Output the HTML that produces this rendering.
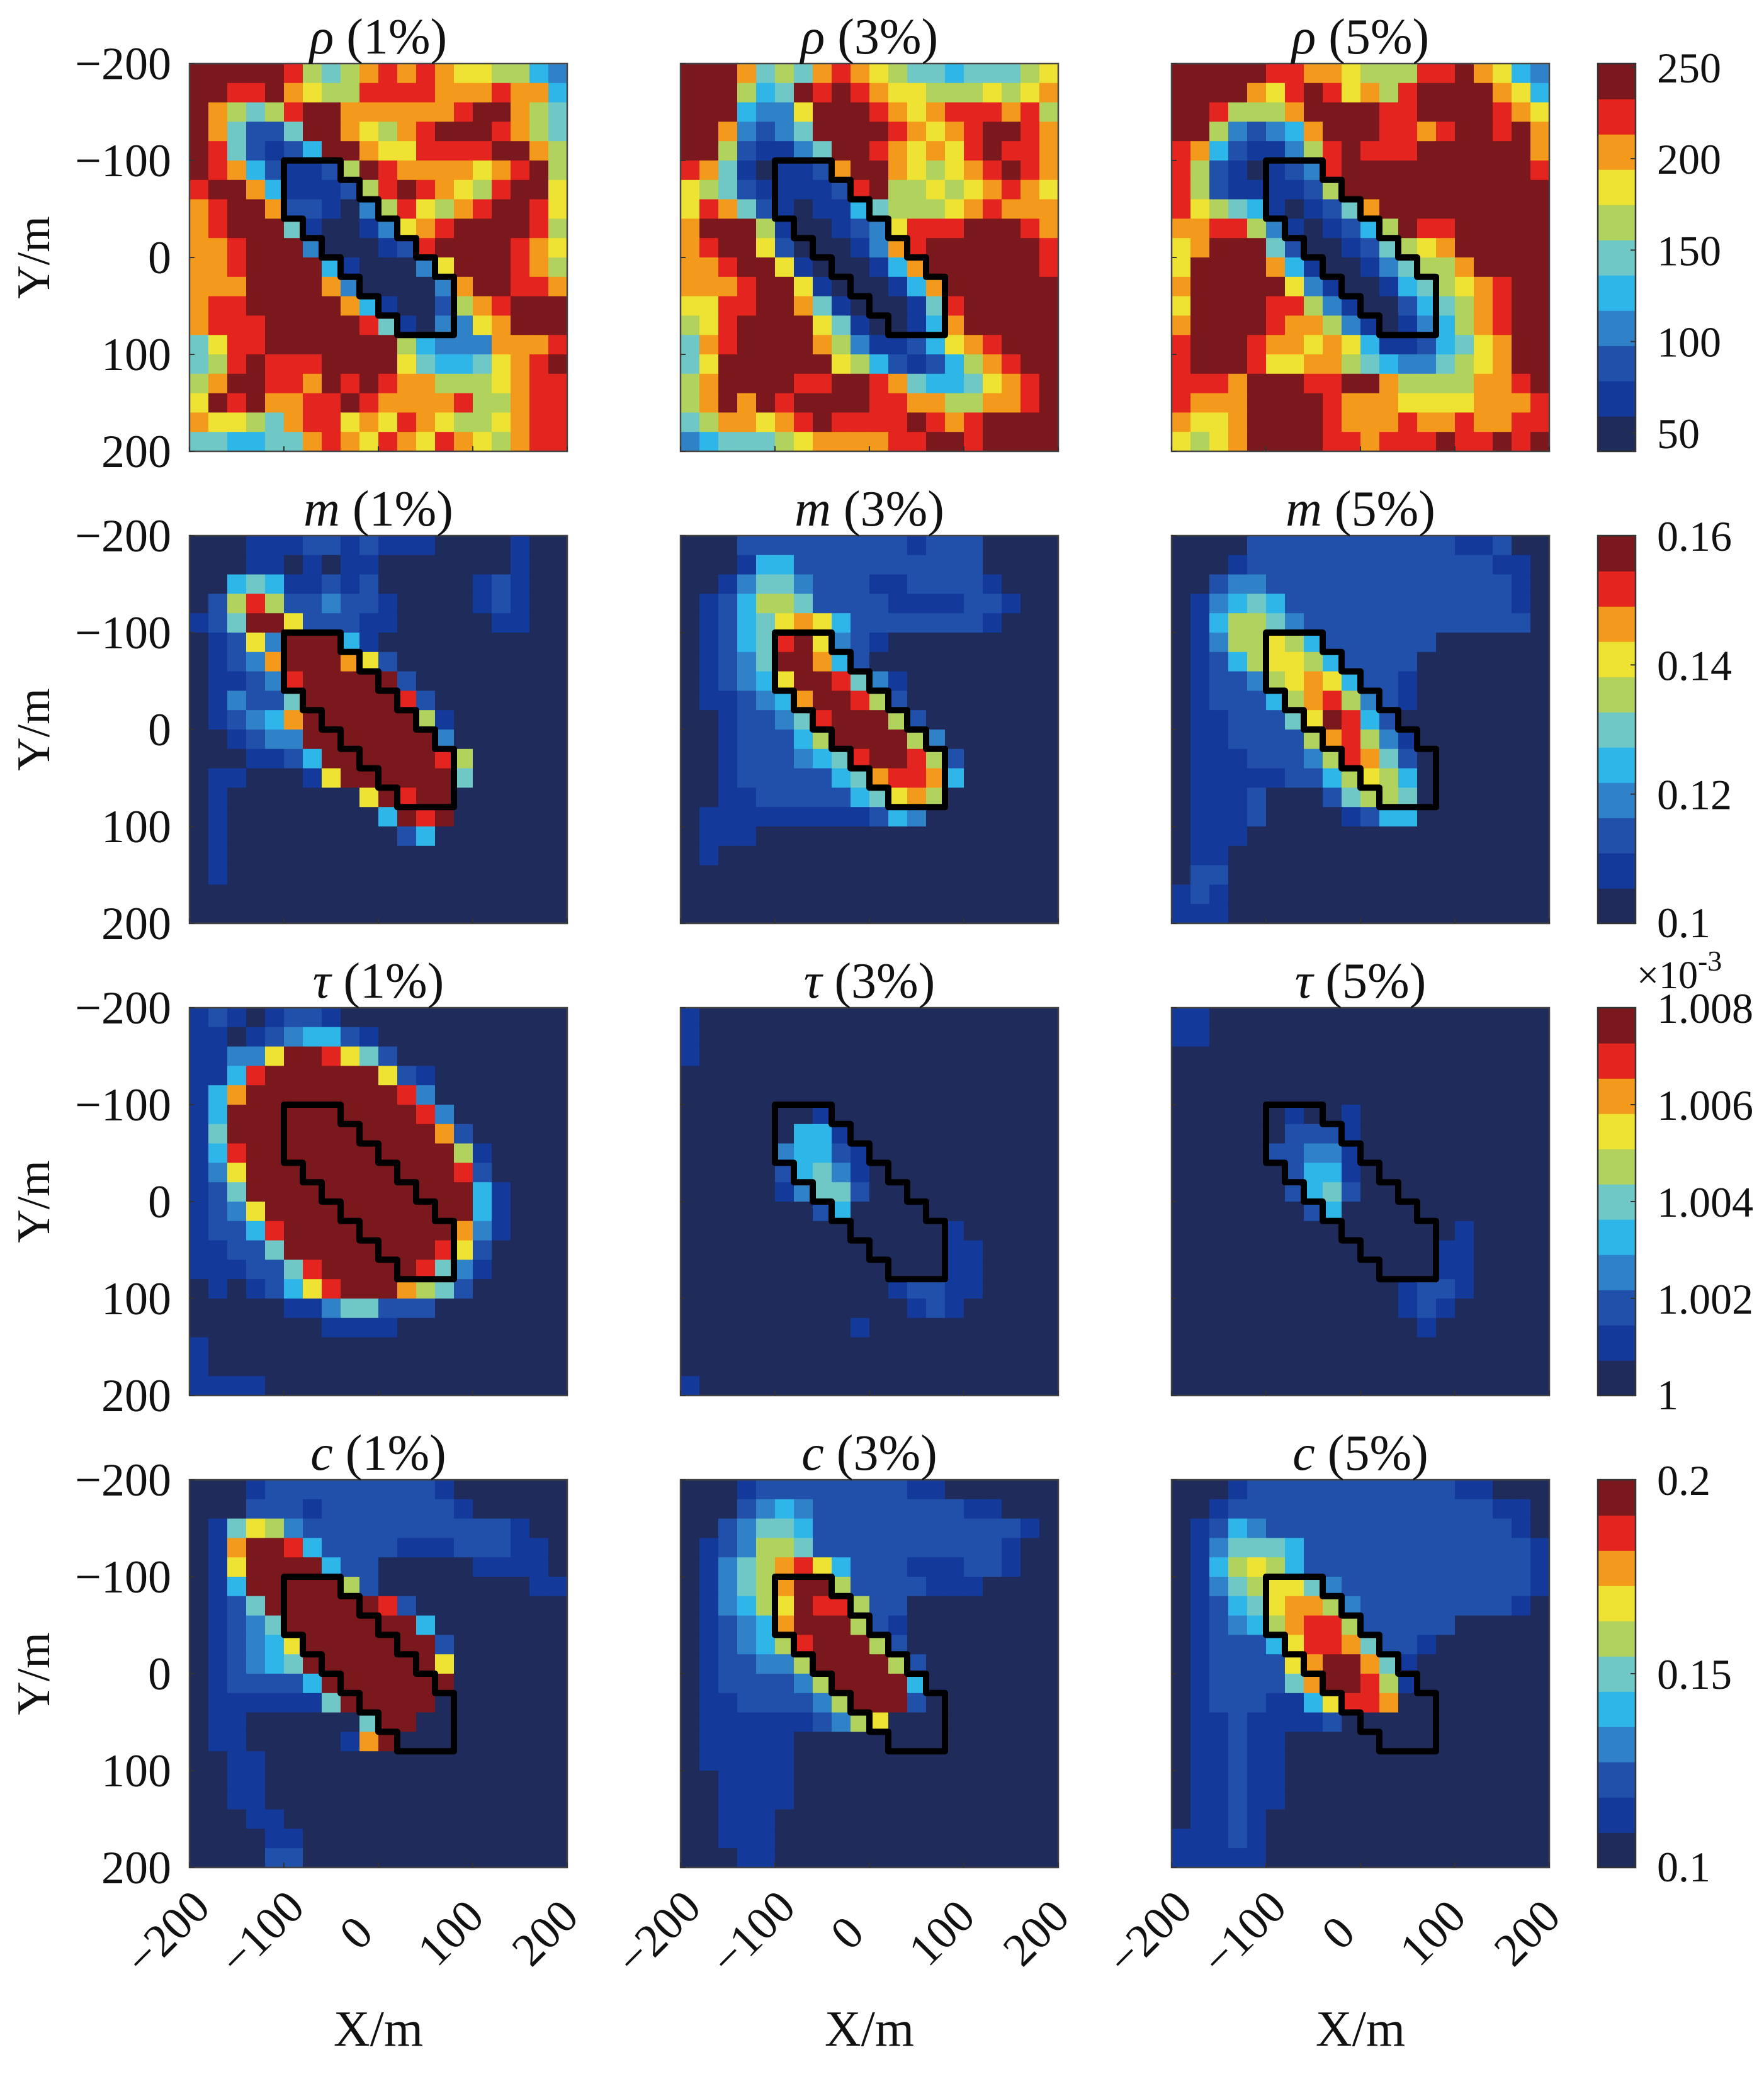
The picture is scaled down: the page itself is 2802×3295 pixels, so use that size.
<!DOCTYPE html>
<html><head><meta charset="utf-8"><style>
html,body{margin:0;padding:0;background:#fff;}
svg{display:block;font-family:"Liberation Serif",serif;}
</style></head>
<body>
<svg id="fig" xmlns="http://www.w3.org/2000/svg" width="2802" height="3295" viewBox="0 0 2802 3295"></svg>
<script>
// ---------- data ----------
const rowParams = ["rho","m","tau","c"];
const noiseLevels = ["1%","3%","5%"];
const rowTitles = ["\u03c1","m","\u03c4","c"];
const cbarMin = [40, 0.1, 1.0, 0.1];
const cbarMax = [252, 0.16, 1.008, 0.2];
const cbarTicks = [[50,100,150,200,250],[0.1,0.12,0.14,0.16],[1.0,1.002,1.004,1.006,1.008],[0.1,0.15,0.2]];
const cbarTickLabels = [["50","100","150","200","250"],["0.1","0.12","0.14","0.16"],["1","1.002","1.004","1.006","1.008"],["0.1","0.15","0.2"]];
const axisTicks = [-200,-100,0,100,200];
const axisTickLabels = ["\u2212200","\u2212100","0","100","200"];
// Anomaly outline (cell corner coordinates: col,row in 20 m cells)
const outlineCols = [5,8,8,9,9,10,10,11,11,12,12,13,13,14,14,11,11,10,10,9,9,8,8,7,7,6,6,5];
const outlineRows = [5,5,6,6,7,7,8,8,9,9,10,10,11,11,14,14,13,13,12,12,11,11,10,10,9,9,8,8];
// Heatmap grids: 20x20 levels (0..a -> fraction of colour range)
const rho1 = ["aaaaa965689898776643","aa99a876699998889884","a86569aa8888889aa865","a85225aa87689aaa9865","a952124aa8779999aa86","a98421126a98888789a6","9aa841112 69a98769aa7".replace(" ",""),"89aa822103697689aa97","89aaa510013789aaaa96","889aaa3000129aaaa987","889aaaa4100037aaa986","888aaaa83000038aa998","899aaaaa841002689aaa","8999aaaaa95103378aaa","5799aaaaaaa643338889","569a999aaaa75445789a","68aa998a9a9886667899","7a9a8899a98888966899","87765899787987667899","55445589879879876899"];
const rho3 = ["aaa85658987655455567","aaa645a9a98776667678","aaa4337aaa9878999896","aa83235aaaa98789aa98","aa621135aa987879a998","985101128aa876789a98","7652111129a667678987","79852101145666789888","8aaa610012 37999aaa98".replace(" ",""),"89aa720001389aaaaaa9","889aa71000148aaaaaa9","8889aa71000148aaaaaa","7799aa851000159aaaaa","679aaaa75100148aaaaa","589aaaa8631124789aaa","57aaaaaa7642124689aa","68aaaa99aa985445789a","68a8a9aaaa998866889a","5688789a9999a989aaaa","3455567888899aa9aaaa"];
const rho5 = ["aaaaa9988766699a8743","aaaa879a97869aaaa874","aa96668aaaa99aaaa987","aa632348aaa9989aa9a8","984211369a999aaaaaa8","962101239aaaaaaaaaa9","962111126aaaaaaaaaaa","97654101258aaaaaaaaa","889963101246a99aaaaa","78aaa5200125678aaaaa","7aaaa84100135668aaaa","8aaaaa731001456789aa","7aaaa9963100245689aa","8aaaa9886310134689aa","9aaa98878741124578aa","9aaa97788654335678aa","9998aaa99aa86666889a","9888aaaa988877778889","8778aaaa988898898899","7678aaaa998999a99a9a"];
const m1 = ["00011122121110000100","00011010110000000100","00454112120000012100","02696223221000012100","125aa722211000001100","01273aaa410000000000","01238aaa872000000000","011239aaaaa200000000","013225aaaaa920000000","012348aaaaaa61000000","001233aaaaaaa3000000","0001124aaaaaa9600000","01100017aaaaaa500000","0100000007a9aa000000","01000000004a9a000000","01000000000240000000","01000000000000000000","01000000000000000000","00000000000000000000","00000000000000000000"];
const m3 = ["00022222222212220000","00014422222222220000","00135532221122221000","01246652222111122100","01245787422222221000","012459a7321000000000","01235aa8420000000000","012347aa953100000000","0112348aa96200000000","00122359aaa620000000","00122246aaaa63000000","0012223459aa96200000","00122222458998400000","00112222245786000000","01111111112430000000","01110000000000000000","01000000000000000000","00000000000000000000","00000000000000000000","00000000000000000000"];
const m5 = ["00002222222222211200","00012222222222222110","00233222222222222210","01345422222222222210","01466532222222222220","01366764222222000000","01246776422220000000","01223678742210000000","01222468963210000000","01122257a94200000000","01122226896310000000","01112223698520000000","01111122467640000000","01112000256650000000","01112000012440000000","01110000000000000000","01100000000000000000","02200000000000000000","12100000000000000000","11100000000000000000"];
const tau1 = ["12101221000000000000","11012344210000000000","11337aa9752000000000","1149aaaaaa7210000000","148aaaaaaaa930000000","14aaaaaaaaaa93000000","15aaaaaaaaaaa8200000","149aaaaaaaaaaa610000","137aaaaaaaaaaa920000","125aaaaaaaaaaaa41000","1237aaaaaaaaaaa41000","12249aaaaaaaaa831000","11225aaaaaaaa9720000","1112259aaaaa95310000","01012479aaa865200000","00000113552220000000","00000001111000000000","10000000000000000000","10000000000000000000","11110000000000000000"];
const tau3 = ["10000000000000000000","10000000000000000000","10000000000000000000","00000000000000000000","00000000000000000000","00000001000000000000","00000044100000000000","00000344210000000000","00000245310000000000","00000135520000000000","00000002400000000000","00000000000000100000","00000000000000110000","00000000000000110000","00000000000122110000","00000000000012100000","00000000010000000000","00000000000000000000","00000000000000000000","10000000000000000000"];
const tau5 = ["11000000000000000000","11000000000000000000","00000000000000000000","00000000000000000000","00000000000000000000","00000010010000000000","00000022210000000000","00000223310000000000","00000024410000000000","00000024520000000000","00000002400000000000","00000000000000010000","00000000000000110000","00000000000000110000","00000000000012210000","00000000000012100000","00000000000001000000","00000000000000000000","00000000000000000000","00000000000000000000"];
const c1 = ["00012222222221000000","00022212222222100000","01576322222222222100","018aa942222111222110","017aaaa4220000011110","014aaaaa620000000011","0125aaaaaa9200000000","01235aaaaaaa40000000","012347aaaaaaa2000000","012345aaaaaaa7000000","0122224aaaaaaa000000","01111115aaaaa0000000","0110000005aa00000000","0110000018a000000000","00110000000000000000","00110000000000000000","00110000000000000000","00011000000000000000","00001100000000000000","00002200000000000000"];
const c3 = ["00012222222211000000","00023432222222211000","00235542222222222210","01236652222222222100","01356897422211122100","013568aa622221110000","013467a9962200000000","012348aaa62100000000","0123469aaa6200000000","0122336aaaa620000000","01222236aaaa40000000","011222236aaa20000000","01111112367000000000","01111100000000000000","01111100000000000000","00111100000000000000","00111100000000000000","00111000000000000000","00111000000000000000","00011000000000000000"];
const c5 = ["00012222222222211000","00122222222222222110","01243222222222222210","01355542222222222221","01467642222222222221","01356775322222222221","01245788632222222210","01234689962222200000","01222479985221000000","01222278aa8510000000","01222258aa9610000000","01222114799800000000","01121111200000000000","01121100000000000000","01121100000000000000","01121100000000000000","01121100000000000000","01121000000000000000","11121000000000000000","11111000000000000000"];
const grids = [[rho1,rho3,rho5],[m1,m3,m5],[tau1,tau3,tau5],[c1,c3,c5]];

// ---------- layout ----------
const colX0 = [301, 1081, 1861];
const panelW = 600;
const rowY0 = [101, 851, 1601, 2351];
const panelH = 616;
const cbX = 2538, cbW = 60;
const palette = ["#1f2b5a","#13399a","#2150aa","#2f82c8","#2fb6e8","#70c8c6","#b2d25e","#eee232","#f39a1c","#e4241e","#7a181e"];

const NS = "http://www.w3.org/2000/svg";
const svg = document.getElementById("fig");
function mk(tag, attrs, parent){ const e=document.createElementNS(NS,tag); for(const k in attrs) e.setAttribute(k,attrs[k]); (parent||svg).appendChild(e); return e; }
function colorFor(frac){ frac=Math.max(0,Math.min(1,frac)); const i=Math.round(frac*(palette.length-1)); return palette[i]; }
function lvl(ch){ return ch==='a'?10:parseInt(ch,10); }

for(let r=0;r<4;r++){
  const vmin=cbarMin[r], vmax=cbarMax[r];
  for(let k=0;k<3;k++){
    const x0=colX0[k], y0=rowY0[r];
    const xs=v=>x0+(v+200)/400*panelW;
    const ys=v=>y0+(v+200)/400*panelH;
    const g=mk("g",{});
    
    
    const grid=grids[r][k];
    for(let i=0;i<20;i++){
      const rowStr=(grid[i]||"").padEnd(20,"0");
      for(let j=0;j<20;j++){
        const val=vmin+lvl(rowStr[j])/10*(vmax-vmin);
        const cell=mk("rect",{x:xs(-200+20*j).toFixed(2),y:ys(-200+20*i).toFixed(2),width:(panelW/20+0.6).toFixed(2),height:(panelH/20+0.6).toFixed(2),fill:colorFor((val-vmin)/(vmax-vmin))},g);
        
        
      }
    }
    let pts=outlineCols.map((c,idx)=>xs(-200+20*c).toFixed(1)+","+ys(-200+20*outlineRows[idx]).toFixed(1)).join(" ");
    const ol=mk("polygon",{points:pts,fill:"none",stroke:"#000","stroke-width":10,"stroke-linejoin":"round"},svg);
    
    
    const box=mk("rect",{x:x0,y:y0,width:panelW,height:panelH,fill:"none",stroke:"#444","stroke-width":2.5});
    
    
    axisTicks.forEach(t=>{
      mk("line",{x1:x0,x2:x0+8,y1:ys(t),y2:ys(t),stroke:"#333","stroke-width":2});
      mk("line",{x1:xs(t),x2:xs(t),y1:y0+panelH,y2:y0+panelH-8,stroke:"#333","stroke-width":2});
    });
    const tt=mk("text",{x:x0+panelW/2,y:y0-16,"text-anchor":"middle","font-size":80,fill:"#111"});
    
    
    const ts=mk("tspan",{"font-style":"italic"},tt); ts.textContent=rowTitles[r];
    const ts2=mk("tspan",{},tt); ts2.textContent=" ("+noiseLevels[k]+")";
    if(k===0){
      axisTicks.forEach((t,ti)=>{
        const yl=mk("text",{x:272,y:ys(t)+25,"text-anchor":"end","font-size":74,fill:"#111"});
        
        
        yl.textContent=axisTickLabels[ti];
      });
      const ya=mk("text",{x:0,y:0,"text-anchor":"middle","font-size":74,fill:"#111",transform:`translate(78,${y0+panelH/2}) rotate(-90)`});
      
      
      ya.textContent="Y/m";
    }
    if(r===3){
      axisTicks.forEach((t,ti)=>{
        const xl=mk("text",{x:0,y:0,"text-anchor":"middle","font-size":74,fill:"#111",transform:`translate(${xs(t)-18},${3088}) rotate(-45)`});
        
        
        xl.textContent=axisTickLabels[ti];
      });
      const xa=mk("text",{x:x0+panelW/2,y:3250,"text-anchor":"middle","font-size":80,fill:"#111"});
      
      
      xa.textContent="X/m";
    }
  }
  const y0=rowY0[r];
  const cb=mk("g",{});
  
  
  const n=palette.length;
  for(let i=0;i<n;i++){
    mk("rect",{x:cbX,y:(y0+panelH-(i+1)*panelH/n).toFixed(2),width:cbW,height:(panelH/n+0.8).toFixed(2),fill:palette[i]},cb);
  }
  mk("rect",{x:cbX,y:y0,width:cbW,height:panelH,fill:"none",stroke:"#333","stroke-width":2.5},cb);
  const cs=v=>y0+panelH-(v-cbarMin[r])/(cbarMax[r]-cbarMin[r])*panelH;
  cbarTicks[r].forEach((t,ti)=>{
    mk("line",{x1:cbX+cbW-8,x2:cbX+cbW,y1:cs(t),y2:cs(t),stroke:"#333","stroke-width":2},cb);
    const lb=mk("text",{x:2632,y:Math.min(cs(t)+24,y0+panelH+22),"font-size":68,fill:"#111"});
    
    
    lb.textContent=cbarTickLabels[r][ti];
  });
  if(r===2){
    const ex=mk("text",{x:2600,y:1570,"font-size":62,fill:"#111"});
    
    
    ex.textContent="\u00d710";
    const sup=mk("tspan",{dy:-28,"font-size":46},ex); sup.textContent="-3";
  }
}
</script>
</body></html>
